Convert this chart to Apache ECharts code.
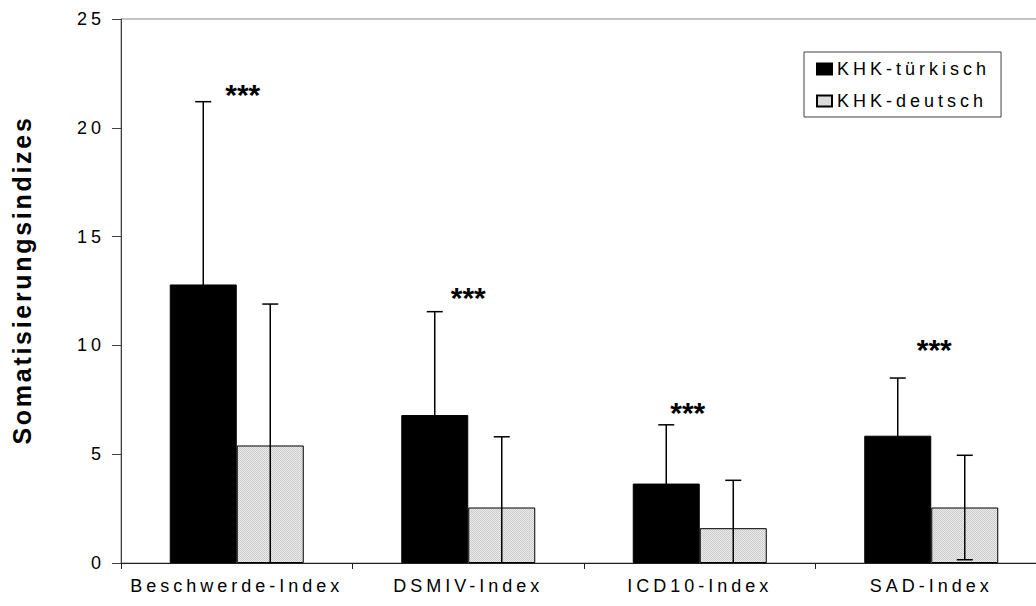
<!DOCTYPE html>
<html>
<head>
<meta charset="utf-8">
<script src="https://cdn.jsdelivr.net/npm/echarts@6/dist/echarts.min.js"></script>
<style>
  html, body { margin: 0; padding: 0; background: #fff; }
  #chart { width: 1036px; height: 606px; }
  /* spaced-out lettering for the plain labels, tighter for the bold title, none for the stars */
  #chart text { letter-spacing: 4px; }
  #chart text[style*="bold"] { letter-spacing: 2.7px; }
  #chart text[style*="30px"] { letter-spacing: 0; }
</style>
</head>
<body>
<div id="chart"></div>
<script>
// Somatisation indices: mean and standard deviation per group
const categories = ['Beschwerde-Index', 'DSMIV-Index', 'ICD10-Index', 'SAD-Index'];
const seriesNames = ['KHK-türkisch', 'KHK-deutsch'];
const meanTuerkisch = [12.8, 6.8, 3.65, 5.85];
const sdTuerkisch = [8.4, 4.75, 2.7, 2.65];
const meanDeutsch = [5.4, 2.55, 1.6, 2.55];
const sdDeutsch = [6.5, 3.25, 2.2, 2.4];
const sigLabels = ['***', '***', '***', '***'];
const sigLevels = [21.6, 12.3, 7.0, 9.9];
const yTicks = [0, 5, 10, 15, 20, 25];

const FONT = 'Arial, "Liberation Sans", sans-serif';
const BAR_W = 67;
const CAP = 8;
const starNudge = [6, 0, -12, 3];

// light dotted fill used for the second group
function dottedFill() {
  const c = document.createElement('canvas');
  c.width = 2; c.height = 2;
  const g = c.getContext('2d');
  g.fillStyle = '#ebebeb';
  g.fillRect(0, 0, 2, 2);
  g.fillStyle = '#cbcbcb';
  g.fillRect(0, 0, 1, 1);
  g.fillRect(1, 1, 1, 1);
  return c;
}

function errorData(means, sds) {
  return means.map((m, i) => [i, m, sds[i]]);
}

function makeErrorRenderer(side) {
  return function (params, api) {
    const i = api.value(0), m = api.value(1), sd = api.value(2);
    const lo = Math.max(0, m - sd), hi = m + sd;
    const top = api.coord([i, hi]);
    const bot = api.coord([i, lo]);
    const x = top[0] + side * BAR_W / 2;
    const style = { stroke: '#000', lineWidth: 1.5 };
    const children = [
      { type: 'line', shape: { x1: x, y1: top[1], x2: x, y2: bot[1] }, style },
      { type: 'line', shape: { x1: x - CAP, y1: top[1], x2: x + CAP, y2: top[1] }, style }
    ];
    if (lo > 0) {
      children.push({ type: 'line', shape: { x1: x - CAP, y1: bot[1], x2: x + CAP, y2: bot[1] }, style });
    }
    return { type: 'group', children };
  };
}

const chart = echarts.init(document.getElementById('chart'), null, { renderer: 'svg' });
const fill2 = { image: dottedFill(), repeat: 'repeat' };

chart.setOption({
  animation: false,
  backgroundColor: '#fff',
  grid: {
    left: 121, right: -11, top: 19, bottom: 43,
    show: true, borderColor: '#888', borderWidth: 1,
    outerBoundsMode: 'none'
  },
  legend: {
    orient: 'vertical',
    left: 804, top: 52,
    padding: [8, 58, 7, 12],
    itemGap: 14,
    itemWidth: 15, itemHeight: 11,
    icon: 'rect',
    borderColor: '#404040', borderWidth: 1,
    backgroundColor: '#fff',
    textStyle: { fontFamily: FONT, fontSize: 18, color: '#000' },
    data: seriesNames
  },
  xAxis: {
    type: 'category',
    data: categories,
    boundaryGap: true,
    axisLine: { show: true, lineStyle: { color: '#202020', width: 1 } },
    axisTick: { show: true, alignWithLabel: false, length: 6, lineStyle: { color: '#202020' } },
    axisLabel: { interval: 0, margin: 14, fontFamily: FONT, fontSize: 18, color: '#000' },
    splitLine: { show: false }
  },
  yAxis: {
    type: 'value',
    min: yTicks[0],
    max: yTicks[yTicks.length - 1],
    interval: yTicks[1] - yTicks[0],
    name: 'Somatisierungsindizes',
    nameLocation: 'middle',
    nameRotate: 90,
    nameGap: 87,
    nameTextStyle: { fontFamily: FONT, fontSize: 25, fontWeight: 'bold', color: '#000', padding: [0, 0, 0, 22] },
    axisLine: { show: true, lineStyle: { color: '#404040', width: 1 } },
    axisTick: { show: true, length: 9, lineStyle: { color: '#404040' } },
    axisLabel: { margin: 16, fontFamily: FONT, fontSize: 18, color: '#000' },
    splitLine: { show: false }
  },
  series: [
    {
      name: seriesNames[0], type: 'bar', data: meanTuerkisch,
      barWidth: BAR_W, barGap: '0%',
      itemStyle: { color: '#000', borderColor: '#000', borderWidth: 1 },
      z: 2
    },
    {
      name: seriesNames[1], type: 'bar', data: meanDeutsch,
      barWidth: BAR_W, barGap: '0%',
      itemStyle: { color: fill2, borderColor: '#000', borderWidth: 1 },
      z: 2
    },
    {
      type: 'custom', name: 'err1', data: errorData(meanTuerkisch, sdTuerkisch),
      encode: { x: 0, y: 1 }, renderItem: makeErrorRenderer(-1), z: 5, clip: false, silent: true
    },
    {
      type: 'custom', name: 'err2', data: errorData(meanDeutsch, sdDeutsch),
      encode: { x: 0, y: 1 }, renderItem: makeErrorRenderer(1), z: 5, clip: false, silent: true
    },
    {
      type: 'custom', name: 'sig',
      data: sigLevels.map((v, i) => [i, v]),
      encode: { x: 0, y: 1 }, z: 6, clip: false, silent: true,
      renderItem: function (params, api) {
        const i = api.value(0);
        const p = api.coord([i, api.value(1)]);
        return {
          type: 'text',
          x: p[0] + starNudge[i], y: p[1] + 2,
          style: {
            text: sigLabels[i], fill: '#000',
            fontSize: 30, fontWeight: 'bold', fontFamily: FONT,
            align: 'center', verticalAlign: 'middle'
          }
        };
      }
    }
  ]
});
</script>
</body>
</html>
